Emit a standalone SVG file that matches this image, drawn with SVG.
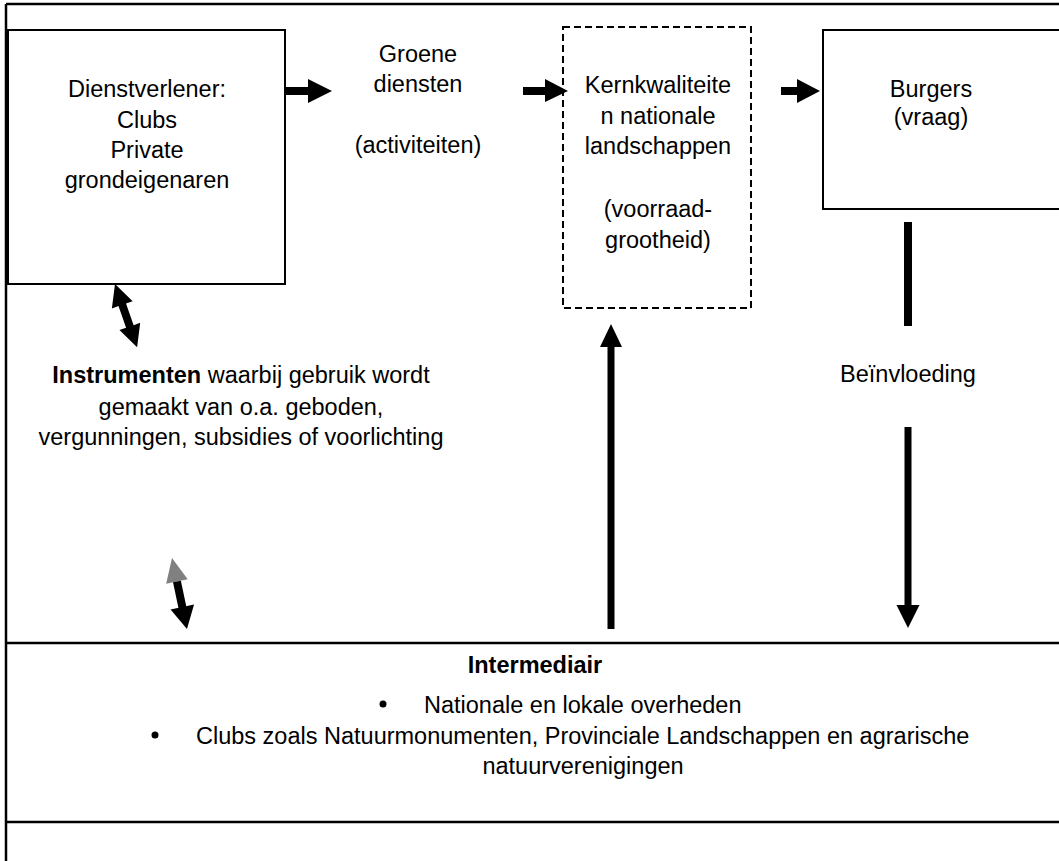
<svg xmlns="http://www.w3.org/2000/svg" width="1059" height="861" viewBox="0 0 1059 861">
<style>
.t{font-family:"Liberation Sans",Arial,sans-serif;font-size:23.5px;fill:#000;text-anchor:middle}
.s{font-family:"Liberation Sans",Arial,sans-serif;font-size:23.5px;fill:#000}
.b{font-weight:bold}
.box{fill:none;stroke:#000;stroke-width:2}
.line{stroke:#000;stroke-width:2.5;fill:none}
.ar{fill:#000}
</style>
<rect width="1059" height="861" fill="#fff"/>
<g id="frame">
<line class="line" x1="6" y1="4" x2="1059" y2="4"/>
<line class="line" x1="6" y1="4" x2="6" y2="861"/>
</g>
<g id="dienstverlener">
<rect class="box" x="8" y="30" width="277" height="254"/>
<text class="t" x="147" y="97">Dienstverlener:</text>
<text class="t" x="147" y="128">Clubs</text>
<text class="t" x="147" y="158">Private</text>
<text class="t" x="147" y="188">grondeigenaren</text>
</g>
<g id="groene-diensten">
<text class="t" x="418" y="62">Groene</text>
<text class="t" x="418" y="92">diensten</text>
<text class="t" x="418" y="153">(activiteiten)</text>
</g>
<g id="kernkwaliteiten">
<rect class="box" x="563" y="27" width="188" height="281" stroke-dasharray="7 4"/>
<text class="t" x="658" y="93">Kernkwaliteite</text>
<text class="t" x="658" y="124">n nationale</text>
<text class="t" x="658" y="154">landschappen</text>
<text class="t" x="658" y="217">(voorraad-</text>
<text class="t" x="658" y="248">grootheid)</text>
</g>
<g id="burgers">
<rect class="box" x="823" y="30" width="260" height="179"/>
<text class="t" x="931" y="97">Burgers</text>
<text class="t" x="931" y="125">(vraag)</text>
</g>
<g id="instrumenten">
<text class="t" x="241" y="383"><tspan class="b">Instrumenten</tspan> waarbij gebruik wordt</text>
<text class="t" x="241" y="415">gemaakt van o.a. geboden,</text>
<text class="t" x="241" y="445">vergunningen, subsidies of voorlichting</text>
</g>
<g id="beinvloeding">
<text class="t" x="908" y="382">Beïnvloeding</text>
</g>
<g id="intermediair">
<line class="line" x1="6" y1="643" x2="1059" y2="643"/>
<line class="line" x1="6" y1="822" x2="1059" y2="822"/>
<text class="t b" x="535" y="673">Intermediair</text>
<circle cx="383" cy="704" r="3.5" fill="#000"/>
<text class="s" x="424" y="713">Nationale en lokale overheden</text>
<circle cx="155" cy="735" r="3.5" fill="#000"/>
<text class="s" x="196" y="744">Clubs zoals Natuurmonumenten, Provinciale Landschappen en agrarische</text>
<text class="t" x="583" y="774">natuurverenigingen</text>
</g>
<g id="connectors">
<polygon class="ar" points="285,87 308,87 308,79 332,91 308,103 308,95 285,95"/>
<polygon class="ar" points="523,87 545,87 545,79 568,91 545,102 545,95 523,95"/>
<polygon class="ar" points="781,87 797,87 797,79 820,91 797,103 797,95 781,95"/>
<rect class="ar" x="904" y="222" width="8" height="104"/>
<polygon class="ar" points="904.5,427 911.5,427 911.5,605 919.5,605 908,628 896.5,605 904.5,605"/>
<polygon class="ar" points="607.5,629 614.5,629 614.5,347 622,347 611,324 600,347 607.5,347"/>
<polygon class="ar" transform="translate(115,284) rotate(70.75)" points="0,0 22,-11 22,-4 45,-4 45,-11 67,0 45,11 45,4 22,4 22,11"/>
<g transform="translate(172,558) rotate(78.1)">
<polygon fill="#808080" points="0,0 24,-11 24,11"/>
<rect class="ar" x="24" y="-4" width="27" height="8"/>
<polygon class="ar" points="50,-12 72.6,0 50,12"/>
</g>
</g>
</svg>
